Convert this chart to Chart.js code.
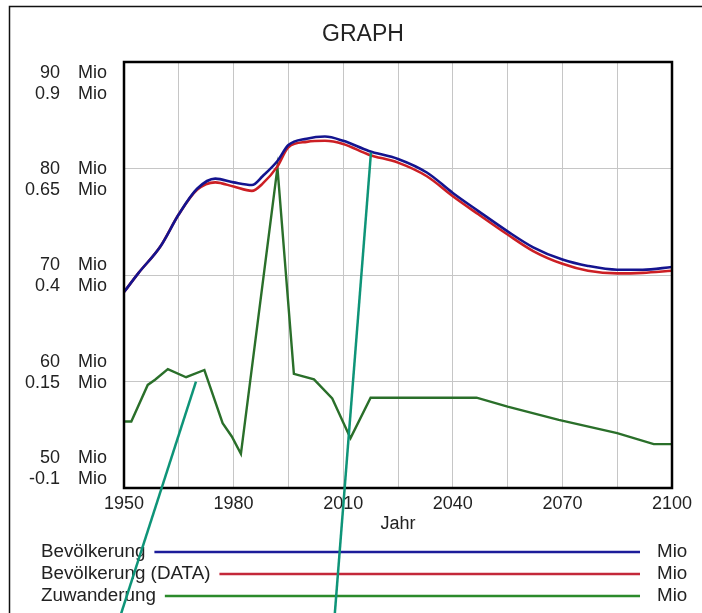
<!DOCTYPE html>
<html>
<head>
<meta charset="utf-8">
<script src="https://cdn.jsdelivr.net/npm/chart.js@4/dist/chart.umd.min.js"></script>
<style>
  html, body { margin: 0; padding: 0; background: #ffffff; }
  #wrap { position: relative; width: 702px; height: 613px; }
</style>
</head>
<body>
<div id="wrap"><canvas id="c" width="702" height="613"></canvas></div>
<script>
// ---------- data ----------
const chartTitle = 'GRAPH';
const xTitle = 'Jahr';
const seriesNames = ['Bevölkerung', 'Bevölkerung (DATA)', 'Zuwanderung'];
const seriesUnits = ['Mio', 'Mio', 'Mio'];

const popYears = [1950, 1954, 1960, 1965, 1970, 1975, 1980, 1985, 1988, 1992, 1995, 2000, 2005, 2010, 2017, 2025, 2033, 2040, 2047, 2055, 2062, 2070, 2077, 2085, 2092, 2100];
const bevoelkerung = [68.4, 70.2, 72.7, 75.7, 78.1, 79.05, 78.7, 78.45, 79.3, 80.7, 82.2, 82.8, 83.0, 82.6, 81.65, 80.9, 79.6, 77.7, 76.0, 74.1, 72.6, 71.45, 70.85, 70.5, 70.5, 70.75];
const bevoelkerungData = [68.4, 70.2, 72.7, 75.7, 78.0, 78.7, 78.3, 77.9, 78.6, 80.2, 82.0, 82.5, 82.6, 82.3, 81.3, 80.55, 79.25, 77.4, 75.7, 73.8, 72.25, 71.05, 70.4, 70.15, 70.2, 70.4];

const zuwYears = [1950, 1952, 1956.5, 1958.5, 1962, 1967, 1972, 1977, 1979.5, 1982, 1992, 1996.5, 2002, 2007, 2012, 2017.5, 2046.5, 2055, 2069, 2085, 2095, 2100];
const zuwanderung = [0.056, 0.056, 0.142, 0.154, 0.179, 0.16, 0.177, 0.052, 0.021, -0.02, 0.652, 0.168, 0.155, 0.11, 0.017, 0.112, 0.112, 0.091, 0.06, 0.029, 0.003, 0.003];

const xTickLabels = [1950, 1980, 2010, 2040, 2070, 2100];
const popTicks = [90, 80, 70, 60, 50];
const zuwTicks = ['0.9', '0.65', '0.4', '0.15', '-0.1'];

// callout lines (in year / population units)
const callouts = [
  { from: [1969.7, 59.98], to: [1949.2, 38.2] },
  { from: [2017.6, 81.5], to: [2007.7, 38.2] }
];

// ---------- styles ----------
const FONT = '"Liberation Sans", Arial, sans-serif';
const TXT = '#222222';
const colors = ['#14148f', '#cc1f24', '#2a6f2a'];
const legendColors = ['#1c1c9a', '#c3283a', '#2b8a2b'];

const toPts = (xs, ys) => xs.map((x, i) => ({ x: x, y: ys[i] }));

const decor = {
  id: 'decor',
  beforeDraw(chart) {
    const ctx = chart.ctx;
    ctx.save();
    ctx.fillStyle = '#ffffff';
    ctx.fillRect(0, 0, chart.width, chart.height);
    // outer frame
    ctx.strokeStyle = '#111';
    ctx.lineWidth = 1.5;
    ctx.beginPath();
    ctx.moveTo(9.5, chart.height);
    ctx.lineTo(9.5, 6.5);
    ctx.lineTo(chart.width, 6.5);
    ctx.stroke();
    // title
    ctx.fillStyle = TXT;
    ctx.font = '23px ' + FONT;
    ctx.textAlign = 'center';
    ctx.textBaseline = 'middle';
    ctx.fillText(chartTitle, 363, 35);
    ctx.restore();
  },
  afterDraw(chart) {
    const ctx = chart.ctx;
    const a = chart.chartArea;
    const xs = chart.scales.x, ys = chart.scales.y;
    ctx.save();
    // plot border
    ctx.strokeStyle = '#000';
    ctx.lineWidth = 2.5;
    ctx.strokeRect(a.left, a.top, a.right - a.left, a.bottom - a.top);

    // left axis labels (two rows per tick)
    ctx.font = '18px ' + FONT;
    ctx.fillStyle = TXT;
    ctx.textBaseline = 'middle';
    const n = popTicks.length;
    const first = a.top + 11;
    const last = a.bottom - 30;
    for (let i = 0; i < n; i++) {
      const y1 = first + i * (last - first) / (n - 1);
      const y2 = y1 + 21;
      ctx.textAlign = 'right';
      ctx.fillText(String(popTicks[i]), 60, y1);
      ctx.fillText(zuwTicks[i], 60, y2);
      ctx.textAlign = 'left';
      ctx.fillText(seriesUnits[0], 78, y1);
      ctx.fillText(seriesUnits[2], 78, y2);
    }

    // legend
    const ds = chart.data.datasets;
    for (let i = 0; i < ds.length; i++) {
      const y = 552 + i * 22;
      ctx.font = '18.8px ' + FONT;
      ctx.fillStyle = TXT;
      ctx.textAlign = 'left';
      ctx.fillText(ds[i].label, 41, y);
      const w = ctx.measureText(ds[i].label).width;
      ctx.strokeStyle = legendColors[i];
      ctx.lineWidth = 2.5;
      ctx.beginPath();
      ctx.moveTo(41 + w + 9, y);
      ctx.lineTo(640, y);
      ctx.stroke();
      ctx.fillText(seriesUnits[i], 657, y);
    }

    // callout lines
    ctx.strokeStyle = '#0e9478';
    ctx.lineWidth = 2.5;
    callouts.forEach(c => {
      ctx.beginPath();
      ctx.moveTo(xs.getPixelForValue(c.from[0]), ys.getPixelForValue(c.from[1]));
      ctx.lineTo(xs.getPixelForValue(c.to[0]), ys.getPixelForValue(c.to[1]));
      ctx.stroke();
    });
    ctx.restore();
  }
};

new Chart(document.getElementById('c'), {
  type: 'line',
  data: {
    datasets: [
      { label: seriesNames[0], data: toPts(popYears, bevoelkerung), yAxisID: 'y', borderColor: colors[0], borderWidth: 2.6, cubicInterpolationMode: 'monotone' },
      { label: seriesNames[1], data: toPts(popYears, bevoelkerungData), yAxisID: 'y', borderColor: colors[1], borderWidth: 2.6, cubicInterpolationMode: 'monotone' },
      { label: seriesNames[2], data: toPts(zuwYears, zuwanderung), yAxisID: 'y2', borderColor: colors[2], borderWidth: 2.4 }
    ]
  },
  options: {
    responsive: false,
    animation: false,
    devicePixelRatio: 1,
    elements: { point: { radius: 0 }, line: { tension: 0 } },
    layout: { padding: { left: 124, top: 62, right: 30, bottom: 78 } },
    plugins: { legend: { display: false }, title: { display: false }, tooltip: { enabled: false } },
    scales: {
      x: {
        type: 'linear', min: 1950, max: 2100,
        ticks: {
          stepSize: 15, padding: 5, color: TXT, font: { family: FONT, size: 18 },
          maxRotation: 0, autoSkip: false,
          callback: v => xTickLabels.includes(v) ? String(v) : ''
        },
        grid: { color: '#c6c6c6', lineWidth: 1, drawTicks: false },
        border: { display: false },
        title: { display: true, text: xTitle, color: TXT, font: { family: FONT, size: 18 }, padding: { top: 0, bottom: 0 } },
        afterFit: s => { s.height = 47; }
      },
      y: {
        min: 50, max: 90,
        ticks: { stepSize: 10, display: false },
        grid: { color: '#c6c6c6', lineWidth: 1, drawTicks: false },
        border: { display: false },
        afterFit: s => { s.width = 0; }
      },
      y2: {
        min: -0.1, max: 0.9, display: false,
        grid: { display: false }
      }
    }
  },
  plugins: [decor]
});
</script>
</body>
</html>
